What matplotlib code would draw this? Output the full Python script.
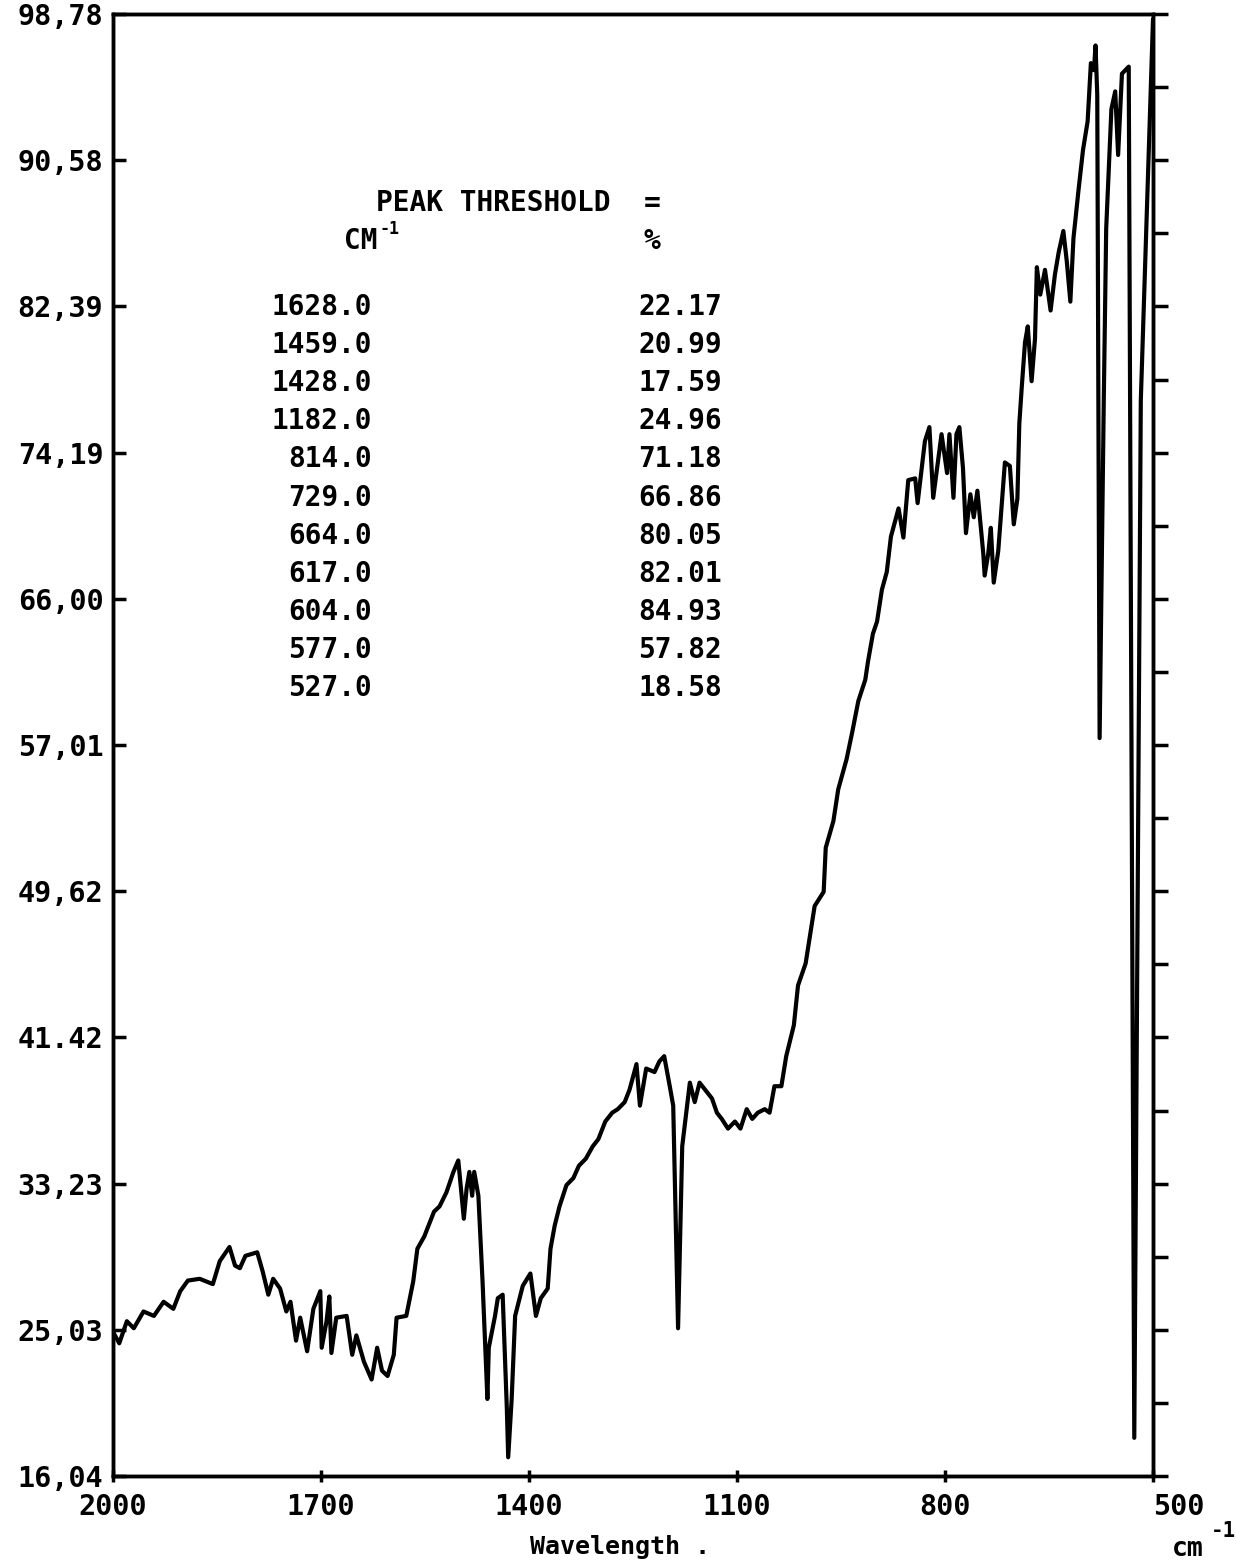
import numpy as np
import matplotlib
matplotlib.use('Agg')
import matplotlib.pyplot as plt

# plotter-style bold mono text
plt.rcParams['font.family'] = 'DejaVu Sans Mono'
plt.rcParams['font.weight'] = 'bold'

# spectrum (cm-1, %T)
wavenumber = [
    2000, 1991, 1980, 1970, 1956, 1941, 1927, 1913, 1903, 1892, 1875, 1856,
    1846, 1832, 1824, 1817, 1809, 1792, 1784, 1776, 1769, 1759, 1750, 1744,
    1736, 1730, 1720, 1711, 1701, 1699, 1692, 1688, 1685, 1678, 1663, 1655,
    1649, 1638, 1627, 1619, 1612, 1604, 1595, 1591, 1577, 1567, 1561, 1551,
    1537, 1529, 1519, 1509, 1502, 1494, 1490, 1486, 1482, 1479, 1473, 1467,
    1460, 1458, 1449, 1445, 1438, 1432, 1430, 1425, 1420, 1409, 1398, 1390,
    1383, 1373, 1369, 1363, 1356, 1346, 1336, 1328, 1318, 1308, 1300, 1290,
    1280, 1272, 1262, 1255, 1245, 1240, 1231, 1219, 1212, 1205, 1197, 1192,
    1185, 1179, 1172, 1168, 1161, 1154, 1144, 1136, 1129, 1122, 1113, 1103,
    1095, 1086, 1078, 1070, 1060, 1053, 1046, 1036, 1029, 1018, 1012, 1001,
    996, 988, 975, 972, 961, 954, 942, 934, 925, 915, 911, 904,
    898, 891, 884, 878, 867, 860, 853, 843, 839.5, 829, 822.5, 817,
    805, 797, 793.6, 787.8, 783.5, 779.3, 774.1, 769.8, 763.4, 758.5, 753.3, 744.8,
    742.8, 737.6, 733.9, 729.7, 723.2, 713.6, 706.4, 700.8, 695.6, 692.8, 689.4, 684.6,
    680.6, 675.1, 670.2, 667.5, 662.6, 655.8, 647.7, 641.4, 636, 629.3, 624.4, 619.2,
    614.7, 607.2, 600.9, 594.3, 589.6, 585.2, 582.9, 580.4, 577, 571, 567.5, 560,
    554.5, 550.3, 544.8, 535, 527, 517.6, 500,
]
transmittance = [
    24.2, 23.55, 24.8, 24.4, 25.35, 25.1, 25.9, 25.5, 26.5, 27.1, 27.2, 26.9,
    28.2, 29.0, 27.95, 27.8, 28.5, 28.7, 27.6, 26.3, 27.2, 26.65, 25.35, 25.9,
    23.7, 25.0, 23.1, 25.5, 26.5, 23.3, 24.8, 26.2, 23.0, 25.0, 25.1, 22.9,
    24.0, 22.5, 21.5, 23.3, 22.0, 21.7, 22.9, 25.0, 25.1, 27.05, 28.9, 29.6,
    31.0, 31.3, 32.1, 33.25, 33.9, 30.6, 32.3, 33.25, 31.9, 33.25, 31.9, 27.05,
    20.4, 23.3, 25.1, 26.1, 26.3, 19.9, 17.1, 20.4, 25.1, 26.8, 27.5, 25.1,
    26.1, 26.65, 28.9, 30.2, 31.3, 32.5, 32.9, 33.6, 34.0, 34.7, 35.1, 36.1,
    36.6, 36.8, 37.2, 37.9, 39.35, 37.0, 39.1, 38.9, 39.5, 39.8, 38.1, 37.0,
    24.4, 34.7, 37.0, 38.3, 37.2, 38.3, 37.8, 37.4, 36.6, 36.25, 35.7, 36.1,
    35.7, 36.8, 36.25, 36.6, 36.8, 36.6, 38.1, 38.1, 39.8, 41.55, 43.8, 45.05,
    46.3, 48.3, 49.1, 51.6, 53.1, 54.9, 56.6, 58.1, 59.9, 61.1, 62.15, 63.7,
    64.4, 66.2, 67.2, 69.2, 70.8, 69.15, 72.4, 72.5, 71.1, 74.6, 75.4, 71.4,
    75.0, 72.8, 75.0, 71.4, 75.0, 75.4, 73.1, 69.4, 71.6, 70.3, 71.8, 68.25,
    67.0, 68.25, 69.7, 66.6, 68.4, 73.4, 73.2, 69.9, 71.35, 75.6, 77.6, 80.2,
    81.1, 78.0, 80.4, 84.45, 82.9, 84.3, 82.0, 84.05, 85.3, 86.5, 84.8, 82.5,
    86.1, 88.9, 91.1, 92.7, 96.0, 95.6, 97.0, 94.2, 57.8, 76.9, 86.65, 93.4,
    94.4, 90.8, 95.4, 95.8, 18.2, 76.9, 98.5,
]

# printed peak table
peak_cm = [1628.0, 1459.0, 1428.0, 1182.0, 814.0, 729.0, 664.0, 617.0, 604.0, 577.0, 527.0]
peak_pct = [22.17, 20.99, 17.59, 24.96, 71.18, 66.86, 80.05, 82.01, 84.93, 57.82, 18.58]

# axis labelling
y_labels = ['16,04', '25,03', '33,23', '41.42', '49,62', '57,01',
            '66,00', '74,19', '82,39', '90,58', '98,78']
x_ticks = [2000, 1700, 1400, 1100, 800, 500]

W, H = 1236, 1564
fig = plt.figure(figsize=(W / 100, H / 100), dpi=100)
ax = fig.add_axes([113 / W, 1 - 1476 / H, 1040 / W, 1462 / H])


def px(x, y):
    return x / W, 1 - y / H


ax.plot(wavenumber, transmittance, color='black', lw=3,
        solid_joinstyle='round', solid_capstyle='round')

ymin, ymax = 16.04, 98.78
ax.set_xlim(2000, 500)
ax.set_ylim(ymin, ymax)
ax.set_yticks(np.linspace(ymin, ymax, len(y_labels)))
ax.set_yticklabels(y_labels)
ax.set_xticks(x_ticks)
ax.set_xticklabels([str(v) for v in x_ticks])
ax.tick_params(axis='y', direction='in', length=9, width=2.5, labelsize=20.5, pad=7)
ax.tick_params(axis='x', direction='inout', length=9, width=2.5, labelsize=20.5, pad=8)
for s in ax.spines.values():
    s.set_linewidth(2.5)

# last x label sits to the right of its tick
ax.get_xticklabels()[-1].set_ha('left')

# right side: outward ticks at every half step
ax2 = ax.twinx()
ax2.set_ylim(ymin, ymax)
ax2.set_yticks(np.linspace(ymin, ymax, 2 * len(y_labels) - 1))
ax2.tick_params(axis='y', direction='out', length=11, width=2.5, labelright=False)
for s in ax2.spines.values():
    s.set_linewidth(2.5)

# peak table
fs = 20
fig.text(*px(376, 203), 'PEAK THRESHOLD  =', ha='left', va='center', fontsize=fs)
fig.text(*px(378, 241), 'CM', ha='right', va='center', fontsize=fs)
fig.text(*px(380, 229), '-1', ha='left', va='center', fontsize=12)
fig.text(*px(652, 241), '%', ha='center', va='center', fontsize=fs)
for i, (c, p) in enumerate(zip(peak_cm, peak_pct)):
    yy = 307 + 38.1 * i
    fig.text(*px(372, yy), f'{c:.1f}', ha='right', va='center', fontsize=fs)
    fig.text(*px(722, yy), f'{p:.2f}', ha='right', va='center', fontsize=fs)

fig.text(*px(620, 1547), 'Wavelength .', ha='center', va='center', fontsize=18)
fig.text(*px(1188, 1549), 'cm', ha='center', va='center', fontsize=19)
fig.text(*px(1224, 1531), '-1', ha='center', va='center', fontsize=15)

fig.savefig('out.png', dpi=100, facecolor='white')
